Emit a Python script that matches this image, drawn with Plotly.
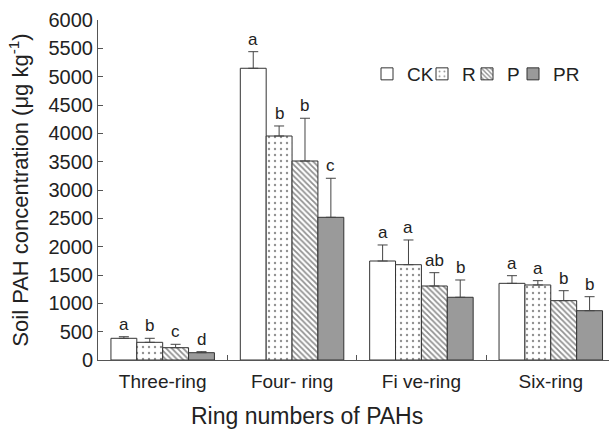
import plotly.graph_objects as go

categories = ["Three-ring", "Four- ring", "Fi ve-ring", "Six-ring"]
series_names = ["CK", "R", "P", "PR"]
ck = [383, 5148, 1747, 1353]
r = [312, 3953, 1682, 1324]
p = [217, 3512, 1306, 1047]
pr = [129, 2518, 1107, 870]
ck_err = [28, 293, 283, 135]
r_err = [71, 177, 436, 76]
p_err = [60, 754, 235, 176]
pr_err = [18, 689, 305, 247]
ck_letters = ["a", "a", "a", "a"]
r_letters = ["b", "b", "a", "a"]
p_letters = ["c", "b", "ab", "b"]
pr_letters = ["d", "c", "b", "b"]

values = [ck, r, p, pr]
errors = [ck_err, r_err, p_err, pr_err]
letters = [ck_letters, r_letters, p_letters, pr_letters]

W, H = 609, 431
L, T, B = 98, 20, 71
PW, PH = W - L, H - T - B
FONT = "Liberation Sans, Arial, sans-serif"
BAR_W = 0.2
styles = [
    dict(color="white", pattern=None),
    dict(color="white", pattern=dict(shape=".", fgcolor="#222", bgcolor="white", size=6, solidity=0.12)),
    dict(color="white", pattern=dict(shape="\\", fgcolor="#222", bgcolor="white", size=4, solidity=0.45)),
    dict(color="#9a9a9a", pattern=None),
]
legend_x = [367, 422, 467, 513]

fig = go.Figure()
for k, name in enumerate(series_names):
    xs = [i + (k - 1.5) * BAR_W for i in range(len(categories))]
    marker = dict(color=styles[k]["color"], line=dict(color="#333", width=1))
    if styles[k]["pattern"]:
        marker["pattern"] = styles[k]["pattern"]
    lg = "legend" if k == 0 else f"legend{k+1}"
    fig.add_trace(go.Bar(
        x=xs, y=values[k], width=BAR_W, name=name, marker=marker,
        error_y=dict(type="data", array=errors[k], arrayminus=[0]*len(errors[k]),
                     symmetric=False, color="#444", thickness=1, width=5),
        legend=lg, showlegend=True,
    ))
    for i in range(len(categories)):
        fig.add_annotation(x=xs[i], y=values[k][i] + errors[k][i], text=letters[k][i],
                           showarrow=False, yanchor="bottom", yshift=1,
                           font=dict(family=FONT, size=17, color="#222"))

fig.add_annotation(text="Ring numbers of PAHs", xref="paper", yref="paper",
                   x=(307 - L) / PW, y=(H - B - 416) / PH, yanchor="middle", showarrow=False,
                   font=dict(family=FONT, size=23, color="#222"))

layout_legends = {}
for k in range(4):
    key = "legend" if k == 0 else f"legend{k+1}"
    layout_legends[key] = dict(
        xref="paper", yref="paper", x=(legend_x[k] - L) / PW, y=(H - B - 55) / PH,
        xanchor="left", yanchor="top", orientation="h", bgcolor="rgba(0,0,0,0)",
        borderwidth=0, font=dict(family=FONT, size=19, color="#222"),
    )

fig.update_layout(
    width=W, height=H,
    margin=dict(l=L, r=0, t=T, b=B, autoexpand=False),
    plot_bgcolor="white", paper_bgcolor="white",
    showlegend=True, barmode="overlay",
    font=dict(family=FONT, color="#222"),
    xaxis=dict(range=[-0.5, 3.45], tickvals=list(range(len(categories))), ticktext=categories,
               ticks="", showline=True, linecolor="#555", linewidth=1, showgrid=False,
               zeroline=False, automargin=False, ticklabelstandoff=4,
               tickfont=dict(family=FONT, size=19, color="#222"),
               minor=dict(tickvals=[0.5, 1.5, 2.5], ticks="inside", ticklen=5, tickcolor="#555", showgrid=False)),
    yaxis=dict(range=[0, 6000], dtick=500, ticks="inside", ticklen=5, tickcolor="#555",
               showline=True, linecolor="#555", linewidth=1, showgrid=False, zeroline=False,
               automargin=False, tickfont=dict(family=FONT, size=20, color="#222"),
               title=dict(text="Soil PAH concentration (μg kg<sup>-1</sup>)",
                          font=dict(family=FONT, size=22, color="#222"), standoff=13)),
    **layout_legends,
)

fig.write_html("out.html", config={"displayModeBar": False},
               post_script="document.body.style.margin='0';")
